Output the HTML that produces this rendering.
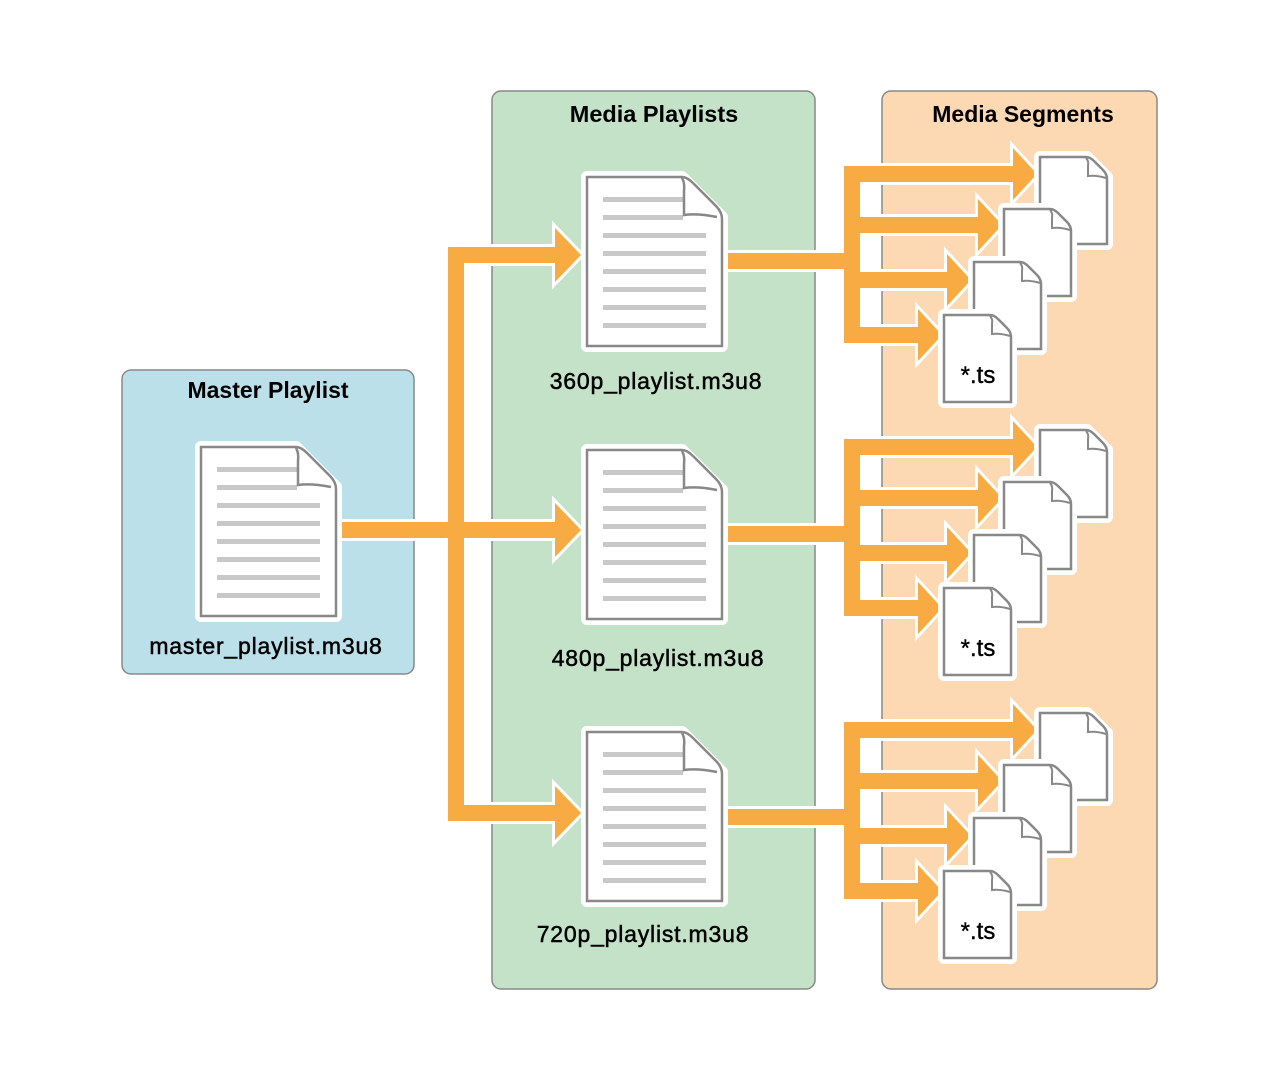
<!DOCTYPE html>
<html><head><meta charset="utf-8"><style>
html,body{margin:0;padding:0;background:#fff;}
svg{display:block;}
text{font-family:"Liberation Sans",sans-serif;fill:#000;}
</style></head><body>
<svg width="1280" height="1080" viewBox="0 0 1280 1080" xmlns="http://www.w3.org/2000/svg">
<defs>
  <symbol id="big" overflow="visible">
    <path d="M0 0 H95 L135 40 V169 H0 Z" fill="#fff" stroke="#fff" stroke-width="12" stroke-linejoin="round"/>
    <path d="M0 0 H95 Q100 0 106 6 L129 29 Q135 35 135 42 V169 H0 Z" fill="#fff" stroke="#888" stroke-width="2.5"/>
    <g fill="#c8c8c8">
      <rect x="16" y="20" width="80" height="5"/><rect x="16" y="38" width="80" height="5"/>
      <rect x="16" y="56" width="103" height="5"/><rect x="16" y="74" width="103" height="5"/>
      <rect x="16" y="92" width="103" height="5"/><rect x="16" y="110" width="103" height="5"/>
      <rect x="16" y="128" width="103" height="5"/><rect x="16" y="146" width="103" height="5"/>
    </g>
    <path d="M95 1 Q98 6 97 14 V38 Q110 36 130 40" fill="none" stroke="#888" stroke-width="2.5"/>
  </symbol>
  <symbol id="small" overflow="visible">
    <path d="M0 0 H47 L67 20 V87 H0 Z" fill="#fff" stroke="#fff" stroke-width="12" stroke-linejoin="round"/>
    <path d="M0 0 H46 Q50 0 54 4 L63 13 Q67 17 67 22 V87 H0 Z" fill="#fff" stroke="#888" stroke-width="2.5"/>
    <path d="M46 1 Q49 4 48 9 V19 Q56 18 66 21" fill="none" stroke="#888" stroke-width="2"/>
  </symbol>
  <g id="segs">
    <g fill="none" stroke="#fff" stroke-width="22" stroke-linejoin="miter">
      <path d="M724 0 H852"/><path d="M1013 -87 H852 V74 H918"/><path d="M852 -36 H978"/><path d="M852 19 H947"/>
    </g>
    <g fill="#fff" stroke="#fff" stroke-width="6" stroke-linejoin="miter">
      <polygon points="1013,-113 1037,-87 1013,-61"/><polygon points="978,-62 1002,-36 978,-10"/>
      <polygon points="947,-7 971,19 947,45"/><polygon points="918,48 942,74 918,100"/>
    </g>
    <g fill="none" stroke="#f7ab42" stroke-width="16" stroke-linejoin="miter">
      <path d="M724 0 H852"/><path d="M1014 -87 H852 V74 H919"/><path d="M852 -36 H979"/><path d="M852 19 H948"/>
    </g>
    <g fill="#f7ab42">
      <polygon points="1013,-113 1037,-87 1013,-61"/><polygon points="978,-62 1002,-36 978,-10"/>
      <polygon points="947,-7 971,19 947,45"/><polygon points="918,48 942,74 918,100"/>
    </g>
    <use href="#small" x="1040" y="-104"/>
    <use href="#small" x="1004" y="-52"/>
    <use href="#small" x="974" y="1"/>
    <use href="#small" x="944" y="54"/>
    <text x="978" y="122" font-size="24" text-anchor="middle" stroke="#000" stroke-width="0.4">*.ts</text>
  </g>
</defs>

<rect x="122" y="370" width="292" height="304" rx="9" fill="#bce0ea" stroke="#888" stroke-width="1.5"/>
<rect x="492" y="91" width="323" height="898" rx="9" fill="#c3e2c8" stroke="#888" stroke-width="1.5"/>
<rect x="882" y="91" width="275" height="898" rx="9" fill="#fcd9b2" stroke="#888" stroke-width="1.5"/>

<text x="268" y="398" font-size="23" font-weight="bold" text-anchor="middle">Master Playlist</text>
<text x="654" y="122" font-size="23.5" font-weight="bold" text-anchor="middle">Media Playlists</text>
<text x="1023" y="122" font-size="23" font-weight="bold" text-anchor="middle">Media Segments</text>

<g fill="none" stroke="#fff" stroke-width="22" stroke-linejoin="miter">
  <path d="M555 255 H456 V813 H555"/><path d="M338 530 H555"/>
</g>
<g fill="#fff" stroke="#fff" stroke-width="6">
  <polygon points="555,228 581,255 555,282"/><polygon points="555,503 581,530 555,557"/><polygon points="555,786 581,813 555,840"/>
</g>
<g fill="none" stroke="#f7ab42" stroke-width="16" stroke-linejoin="miter">
  <path d="M556 255 H456 V813 H556"/><path d="M338 530 H556"/>
</g>
<g fill="#f7ab42">
  <polygon points="555,228 581,255 555,282"/><polygon points="555,503 581,530 555,557"/><polygon points="555,786 581,813 555,840"/>
</g>

<use href="#segs" x="0" y="261"/>
<use href="#segs" x="0" y="534"/>
<use href="#segs" x="0" y="817"/>

<use href="#big" x="201" y="447"/>
<use href="#big" x="587" y="177"/>
<use href="#big" x="587" y="450"/>
<use href="#big" x="587" y="732"/>

<g font-size="23" letter-spacing="0.8" stroke="#000" stroke-width="0.5" text-anchor="middle">
<text x="266" y="654">master_playlist.m3u8</text>
<text x="656" y="389">360p_playlist.m3u8</text>
<text x="658" y="666">480p_playlist.m3u8</text>
<text x="643" y="942">720p_playlist.m3u8</text>
</g>
</svg>
</body></html>
